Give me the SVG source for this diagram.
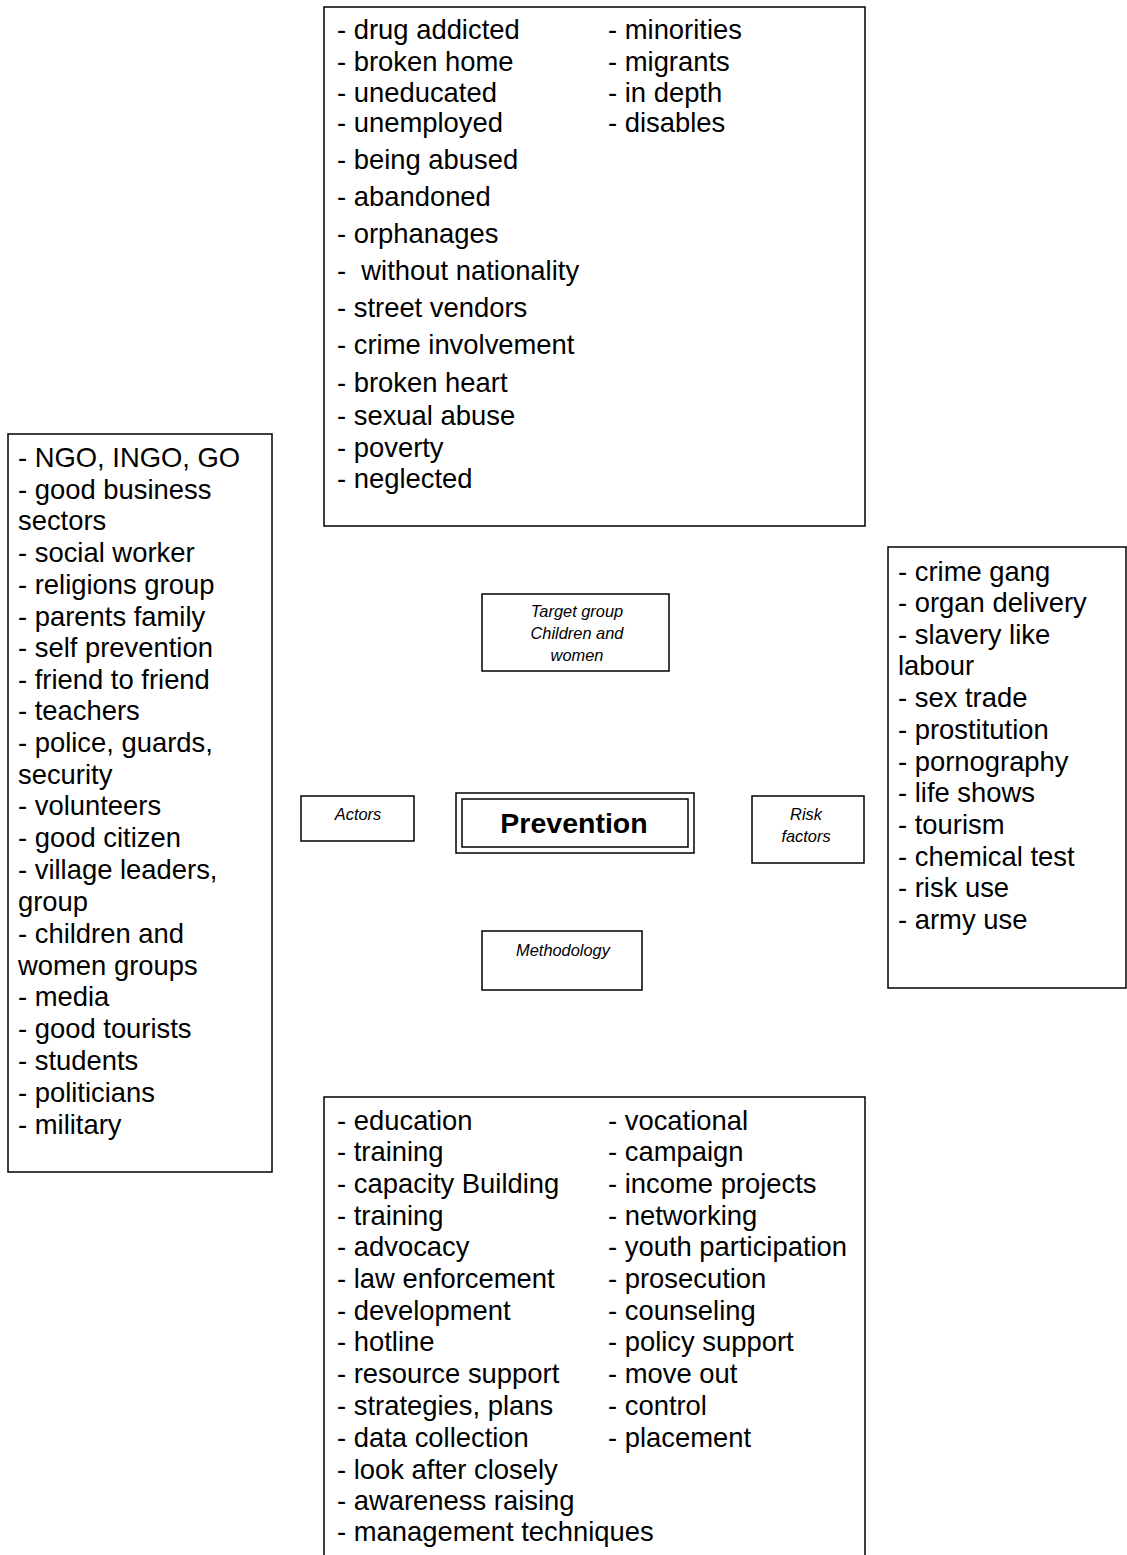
<svg xmlns="http://www.w3.org/2000/svg" width="1127" height="1555" viewBox="0 0 1127 1555">
<style>
.box{fill:#fff;stroke:#000;stroke-width:1.5}
.t{font-family:"Liberation Sans",Arial,sans-serif;font-size:27.4px;fill:#000}
.s{font-family:"Liberation Sans",Arial,sans-serif;font-size:16.4px;font-style:italic;fill:#000;text-anchor:middle}
.b{font-family:"Liberation Sans",Arial,sans-serif;font-size:28.5px;font-weight:bold;fill:#000;text-anchor:middle}
</style>
<rect width="1127" height="1555" fill="#fff"/>
<g id="connectors"></g>
<g id="target-list">
<rect class="box" x="324" y="7" width="541" height="519"/>
<text class="t" x="337" y="39">- drug addicted</text>
<text class="t" x="337" y="71">- broken home</text>
<text class="t" x="337" y="102">- uneducated</text>
<text class="t" x="337" y="132">- unemployed</text>
<text class="t" x="337" y="169">- being abused</text>
<text class="t" x="337" y="206">- abandoned</text>
<text class="t" x="337" y="243">- orphanages</text>
<text class="t" x="337" y="280" xml:space="preserve">-  without nationality</text>
<text class="t" x="337" y="317">- street vendors</text>
<text class="t" x="337" y="354">- crime involvement</text>
<text class="t" x="337" y="392">- broken heart</text>
<text class="t" x="337" y="425">- sexual abuse</text>
<text class="t" x="337" y="457">- poverty</text>
<text class="t" x="337" y="488">- neglected</text>
<text class="t" x="608" y="39">- minorities</text>
<text class="t" x="608" y="71">- migrants</text>
<text class="t" x="608" y="102">- in depth</text>
<text class="t" x="608" y="132">- disables</text>
</g>
<g id="actors-list">
<rect class="box" x="8" y="434" width="264" height="738"/>
<text class="t" x="18" y="467">- NGO, INGO, GO</text>
<text class="t" x="18" y="499">- good business</text>
<text class="t" x="18" y="530">sectors</text>
<text class="t" x="18" y="562">- social worker</text>
<text class="t" x="18" y="594">- religions group</text>
<text class="t" x="18" y="626">- parents family</text>
<text class="t" x="18" y="657">- self prevention</text>
<text class="t" x="18" y="689">- friend to friend</text>
<text class="t" x="18" y="720">- teachers</text>
<text class="t" x="18" y="752">- police, guards,</text>
<text class="t" x="18" y="784">security</text>
<text class="t" x="18" y="815">- volunteers</text>
<text class="t" x="18" y="847">- good citizen</text>
<text class="t" x="18" y="879">- village leaders,</text>
<text class="t" x="18" y="911">group</text>
<text class="t" x="18" y="943">- children and</text>
<text class="t" x="18" y="975">women groups</text>
<text class="t" x="18" y="1006">- media</text>
<text class="t" x="18" y="1038">- good tourists</text>
<text class="t" x="18" y="1070">- students</text>
<text class="t" x="18" y="1102">- politicians</text>
<text class="t" x="18" y="1134">- military</text>
</g>
<g id="risk-list">
<rect class="box" x="888" y="547" width="238" height="441"/>
<text class="t" x="898" y="581">- crime gang</text>
<text class="t" x="898" y="612">- organ delivery</text>
<text class="t" x="898" y="644">- slavery like</text>
<text class="t" x="898" y="675">labour</text>
<text class="t" x="898" y="707">- sex trade</text>
<text class="t" x="898" y="739">- prostitution</text>
<text class="t" x="898" y="771">- pornography</text>
<text class="t" x="898" y="802">- life shows</text>
<text class="t" x="898" y="834">- tourism</text>
<text class="t" x="898" y="866">- chemical test</text>
<text class="t" x="898" y="897">- risk use</text>
<text class="t" x="898" y="929">- army use</text>
</g>
<g id="methodology-list">
<rect class="box" x="324" y="1097" width="541" height="470"/>
<text class="t" x="337" y="1130">- education</text>
<text class="t" x="337" y="1161">- training</text>
<text class="t" x="337" y="1193">- capacity Building</text>
<text class="t" x="337" y="1225">- training</text>
<text class="t" x="337" y="1256">- advocacy</text>
<text class="t" x="337" y="1288">- law enforcement</text>
<text class="t" x="337" y="1320">- development</text>
<text class="t" x="337" y="1351">- hotline</text>
<text class="t" x="337" y="1383">- resource support</text>
<text class="t" x="337" y="1415">- strategies, plans</text>
<text class="t" x="337" y="1447">- data collection</text>
<text class="t" x="337" y="1479">- look after closely</text>
<text class="t" x="337" y="1510">- awareness raising</text>
<text class="t" x="337" y="1541">- management techniques</text>
<text class="t" x="608" y="1130">- vocational</text>
<text class="t" x="608" y="1161">- campaign</text>
<text class="t" x="608" y="1193">- income projects</text>
<text class="t" x="608" y="1225">- networking</text>
<text class="t" x="608" y="1256">- youth participation</text>
<text class="t" x="608" y="1288">- prosecution</text>
<text class="t" x="608" y="1320">- counseling</text>
<text class="t" x="608" y="1351">- policy support</text>
<text class="t" x="608" y="1383">- move out</text>
<text class="t" x="608" y="1415">- control</text>
<text class="t" x="608" y="1447">- placement</text>
</g>
<g id="target-group">
<rect class="box" x="482" y="594" width="187" height="77"/>
<text class="s" x="577" y="617">Target group</text>
<text class="s" x="577" y="639">Children and</text>
<text class="s" x="577" y="661">women</text>
</g>
<g id="actors">
<rect class="box" x="301" y="796" width="113" height="45"/>
<text class="s" x="358" y="820">Actors</text>
</g>
<g id="prevention">
<rect class="box" x="456" y="793" width="238" height="60" stroke-width="2"/>
<rect class="box" x="462" y="799" width="226" height="48" stroke-width="2"/>
<text class="b" x="574" y="833">Prevention</text>
</g>
<g id="risk-factors">
<rect class="box" x="752" y="796" width="112" height="67"/>
<text class="s" x="806" y="820">Risk</text>
<text class="s" x="806" y="842">factors</text>
</g>
<g id="methodology">
<rect class="box" x="482" y="931" width="160" height="59"/>
<text class="s" x="563" y="956">Methodology</text>
</g>
</svg>
